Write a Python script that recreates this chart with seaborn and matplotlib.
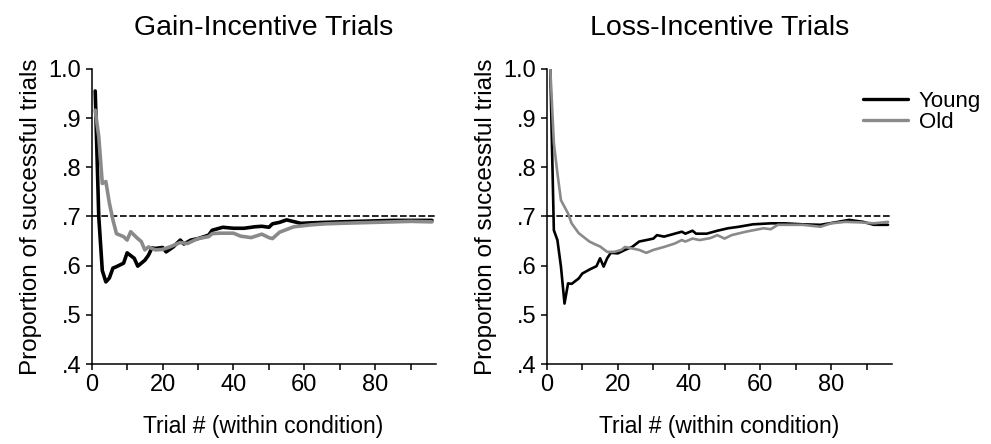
import pandas as pd
import numpy as np
import seaborn as sns
import matplotlib
matplotlib.use("Agg")
import matplotlib.pyplot as plt
from matplotlib.ticker import FuncFormatter

# --- DATA ---
gain_young_trial = [1, 2, 3, 4, 5, 6, 7, 9, 10, 12, 13, 15, 16, 17, 18, 20, 21, 23, 25, 26, 28, 30,
                    33, 34, 37, 40, 43, 46, 48, 50, 51, 53, 55, 59, 62, 66, 70, 75, 80, 85, 90, 96]
gain_young_prop = [.955, .700, .590, .567, .575, .595, .598, .605, .626, .615, .599, .611, .621, .636,
                   .635, .637, .628, .638, .652, .644, .652, .655, .662, .672, .678, .676, .676, .679,
                   .680, .678, .685, .688, .693, .686, .687, .688, .689, .690, .691, .692, .692, .692]

gain_old_trial = [1, 2, 3, 4, 5, 6, 7, 9, 10, 11, 13, 14, 15, 16, 18, 20, 22, 25, 27, 30, 33, 34, 36,
                  40, 42, 45, 48, 50, 51, 53, 57, 62, 66, 70, 75, 80, 85, 90, 96]
gain_old_prop = [.916, .862, .767, .771, .727, .693, .665, .659, .652, .669, .655, .649, .632, .638,
                 .632, .633, .638, .647, .645, .655, .659, .665, .666, .666, .660, .657, .664, .657,
                 .655, .668, .679, .683, .685, .686, .687, .688, .689, .690, .689]

loss_young_trial = [1, 2, 3, 4, 5, 6, 7, 9, 10, 12, 14, 15, 16, 17, 18, 20, 22, 24, 26, 28, 30, 31, 33,
                    36, 38, 39, 41, 42, 45, 48, 51, 54, 58, 63, 67, 72, 77, 82, 85, 89, 92, 96]
loss_young_prop = [1.0, .672, .652, .598, .523, .564, .563, .574, .584, .592, .599, .615, .598, .615,
                   .626, .625, .632, .638, .649, .652, .655, .662, .659, .665, .669, .665, .671, .665,
                   .665, .671, .676, .679, .684, .686, .686, .684, .683, .689, .693, .689, .683, .683]

loss_old_trial = [1, 2, 3, 4, 6, 7, 9, 12, 14, 15, 17, 19, 21, 22, 24, 26, 28, 30, 33, 36, 38, 39, 41,
                  43, 46, 48, 50, 52, 56, 61, 63, 65, 67, 72, 77, 80, 84, 88, 92, 96]
loss_old_prop = [1.0, .849, .788, .733, .706, .686, .666, .649, .642, .639, .628, .628, .632, .638,
                 .635, .632, .626, .632, .638, .645, .652, .649, .655, .652, .656, .662, .655, .662,
                 .669, .676, .674, .683, .683, .683, .679, .686, .689, .688, .686, .689]

groups = ["Young", "Old"]
panels = ["Gain-Incentive Trials", "Loss-Incentive Trials"]
criterion = 0.7


def to_frame(panel, group, trials, props):
    return pd.DataFrame({"Panel": panel, "Group": group, "Trial": trials, "Prop": props})


df = pd.concat([
    to_frame(panels[0], "Young", gain_young_trial, gain_young_prop),
    to_frame(panels[0], "Old", gain_old_trial, gain_old_prop),
    to_frame(panels[1], "Young", loss_young_trial, loss_young_prop),
    to_frame(panels[1], "Old", loss_old_trial, loss_old_prop),
], ignore_index=True)

# --- STYLE ---
sns.set_style("ticks")
plt.rcParams["font.family"] = ["Liberation Sans", "DejaVu Sans"]
plt.rcParams["text.color"] = "black"
plt.rcParams["axes.labelcolor"] = "black"
palette = {"Young": "black", "Old": "#8a8a8a"}

fig = plt.figure(figsize=(9.91, 4.44), dpi=100)
ax_l = fig.add_axes([0.0925, 0.180, 0.347, 0.665])
ax_r = fig.add_axes([0.5517, 0.180, 0.348, 0.665])

for ax, panel, lw in [(ax_l, panels[0], 2.6), (ax_r, panels[1], 1.9)]:
    sub = df[df["Panel"] == panel]
    sns.lineplot(data=sub, x="Trial", y="Prop", hue="Group", hue_order=groups,
                 palette=palette, linewidth=lw, ax=ax, legend=False, estimator=None,
                 sort=True)
    ax.axhline(criterion, color="black", linestyle=(0, (4, 1.6)), linewidth=1.2, zorder=1)
    ax.set_xlim(0, 97)
    ax.set_ylim(0.4, 1.0)
    ax.set_xticks(np.arange(0, 100, 10))
    ax.xaxis.set_major_formatter(FuncFormatter(lambda v, p: f"{int(v)}" if int(v) % 20 == 0 else ""))
    ax.set_yticks(np.arange(0.4, 1.01, 0.1))
    ax.yaxis.set_major_formatter(FuncFormatter(lambda v, p: "1.0" if v > 0.99 else f"{v:.1f}".lstrip("0")))
    ax.tick_params(labelsize=17, length=4.5, width=1.1, colors="black", pad=3)
    for s in ["left", "bottom"]:
        ax.spines[s].set_linewidth(1.1)
        ax.spines[s].set_color("black")
    sns.despine(ax=ax)
    ax.set_title(panel, fontsize=20.5, pad=24)
    ax.set_xlabel("Trial # (within condition)", fontsize=16.5, labelpad=13)
    ax.set_ylabel("Proportion of successful trials", fontsize=17.5, labelpad=5)

handles = [plt.Line2D([], [], color=palette[g], linewidth=2.4) for g in groups]
fig.legend(handles, groups, loc="upper left", bbox_to_anchor=(0.862, 0.815), frameon=False,
           fontsize=16, handlelength=2.0, handletextpad=0.5, labelspacing=0.0, borderaxespad=0)

fig.savefig("out.png", dpi=100)
